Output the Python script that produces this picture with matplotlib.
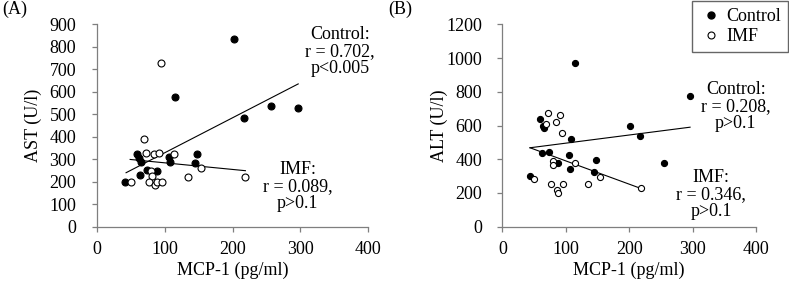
import numpy as np
import matplotlib

matplotlib.use("Agg")
import matplotlib.pyplot as plt
from matplotlib.lines import Line2D

plt.rcParams.update({
    "font.family": "Liberation Serif",
    "font.size": 13,
    "axes.spines.top": False,
    "axes.spines.right": False,
})

AXIS = "#7f7f7f"

# ---- panel A: AST vs MCP-1 ----
a_ctrl_x = [42, 59.5, 63, 66, 64, 74, 88.6, 105.8, 108, 115, 144.6, 147.6, 202, 217, 256, 297]
a_ctrl_y = [200, 323, 304, 286, 230, 252, 246, 311, 286, 578, 282, 323, 835, 482, 537, 526]
a_imf_x = [50.7, 69.4, 72.8, 84.6, 91.5, 94.5, 80.7, 81.6, 76.8, 86.6, 88.6, 96.4, 113.7, 134.8, 154, 218.4]
a_imf_y = [200, 388, 326, 323, 329, 727, 246, 225, 200, 185, 200, 200, 322, 222, 262, 219]
a_fit_ctrl_x, a_fit_ctrl_y = [43.3, 296.7], [240, 635]
a_fit_imf_x, a_fit_imf_y = [49.3, 219], [299, 249]

# ---- panel B: ALT vs MCP-1 ----
b_ctrl_x = [43.6, 59.4, 63.7, 66.2, 63, 74, 88.3, 108.3, 105.6, 107.2, 147.2, 144.5, 201.3, 217, 115, 296, 255.5]
b_ctrl_y = [299, 639, 597, 583, 439, 445, 379, 522, 425, 340, 397, 322, 597, 540, 969, 775, 380]
b_imf_x = [50.5, 72.5, 68.9, 84.6, 90.9, 94.6, 79.4, 79.4, 114.1, 76.7, 95.1, 85.7, 87.3, 134.6, 154, 218.2]
b_imf_y = [285, 672, 611, 623, 662, 556, 390, 366, 380, 253, 251, 218, 198, 253, 293, 227]
b_fit_ctrl_x, b_fit_ctrl_y = [43.6, 296], [468, 590]
b_fit_imf_x, b_fit_imf_y = [43.6, 218.2], [468, 227]

fig = plt.figure(figsize=(7.89, 2.82), dpi=100)
axA = fig.add_axes([0.1225, 0.1962, 0.3444, 0.7175])
axB = fig.add_axes([0.6367, 0.1962, 0.3215, 0.7175])


def panel(ax, cx, cy, ix, iy, fcx, fcy, fix, fiy, ymax, ystep, ylabel, ms):
    ax.plot(fcx, fcy, color="black", lw=0.8)
    ax.plot(fix, fiy, color="black", lw=0.8)
    ax.plot(cx, cy, "o", ms=ms, mfc="black", mec="black", mew=0.8, ls="none")
    ax.plot(ix, iy, "o", ms=ms, mfc="white", mec="black", mew=0.8, ls="none")
    ax.set_xlim(0, 400)
    ax.set_ylim(0, ymax)
    ax.set_xticks(np.arange(0, 401, 100))
    ax.set_yticks(np.arange(0, ymax + 1, ystep))
    for s in ("left", "bottom"):
        ax.spines[s].set_color(AXIS)
        ax.spines[s].set_linewidth(0.9)
    ax.tick_params(direction="out", length=3.6, width=0.9, color=AXIS)
    ax.tick_params(axis="y", pad=11)
    ax.tick_params(axis="x", pad=7)
    ax.set_xlabel("MCP-1 (pg/ml)")
    ax.set_ylabel(ylabel)
    ax.xaxis.set_label_coords(0.5, -0.175)


panel(axA, a_ctrl_x, a_ctrl_y, a_imf_x, a_imf_y, a_fit_ctrl_x, a_fit_ctrl_y,
      a_fit_imf_x, a_fit_imf_y, 900, 100, "AST (U/l)", 5.0)
axA.yaxis.set_label_coords(-0.2, 0.5)
panel(axB, b_ctrl_x, b_ctrl_y, b_imf_x, b_imf_y, b_fit_ctrl_x, b_fit_ctrl_y,
      b_fit_imf_x, b_fit_imf_y, 1200, 200, "ALT (U/l)", 4.4)
axB.yaxis.set_label_coords(-0.215, 0.5)

axA.text(358, 892, "Control:\nr = 0.702,\np<0.005", ha="center", va="top",
         linespacing=1.0)
axA.text(296, 290, "IMF:\nr = 0.089,\np>0.1", ha="center", va="top",
         linespacing=1.0)
axB.text(368, 865, "Control:\nr = 0.208,\np>0.1", ha="center", va="top",
         linespacing=1.0)
axB.text(329, 340, "IMF:\nr = 0.346,\np>0.1", ha="center", va="top",
         linespacing=1.0)

fig.text(0.003, 0.998, "(A)", ha="left", va="top")
fig.text(0.492, 0.998, "(B)", ha="left", va="top")

handles = [
    Line2D([], [], marker="o", ls="none", ms=5, mfc="black", mec="black"),
    Line2D([], [], marker="o", ls="none", ms=5, mfc="white", mec="black", mew=0.8),
]
leg = fig.legend(handles, ["Control", "IMF"], loc="upper right",
                 bbox_to_anchor=(1.0, 1.0), frameon=True, fancybox=False,
                 edgecolor="#404040", handlelength=1.3, handletextpad=0.2,
                 borderpad=0.4, labelspacing=0.15, borderaxespad=0.05)
leg.get_frame().set_linewidth(1.0)

fig.savefig("out.png", dpi=100)
